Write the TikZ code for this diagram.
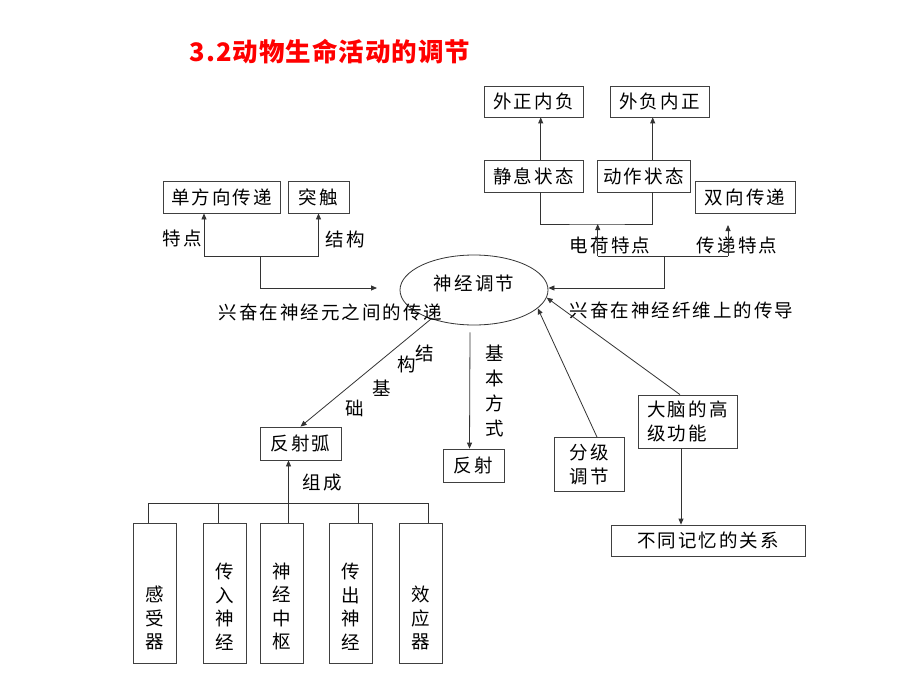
\documentclass[tikz,border=0pt]{standalone}
\usepackage{fontspec}
\newfontfamily\cjk{Noto Sans CJK SC}[LetterSpace=11]
\newfontfamily\titlefont{Noto Sans CJK SC}[LetterSpace=4]
\usetikzlibrary{arrows.meta,shapes.geometric,calc}
\definecolor{tred}{RGB}{255,0,0}
\newcommand\bodyf{\cjk\fontsize{18.5}{24}\selectfont}
\newcommand\vertf{\cjk\fontsize{18.5}{23.5}\selectfont}
\tikzset{
  ln/.style={draw=black!80, line width=0.8pt},
  arr/.style={ln, -{Triangle[length=6pt,width=5pt]}},
  bx/.style={draw=black!75, line width=0.8pt, inner sep=0pt, font=\bodyf},
  txt/.style={inner sep=0pt, font=\bodyf},
}
\begin{document}
\begin{tikzpicture}[x=1pt,y=-1pt]
\useasboundingbox (0,0) rectangle (920,690);
\fill[white] (0,0) rectangle (920,690);

% title
\node[inner sep=0pt, text=tred, font=\titlefont\bfseries\fontsize{25.5}{30}\selectfont] (title) at (330,52) {3.2动物生命活动的调节};

% top right boxes
\node[bx, minimum width=99pt, minimum height=31pt] (wzn) at (533.5,101.5) {外正内负};
\node[bx, minimum width=99pt, minimum height=31pt] (wfn) at (659.5,101.5) {外负内正};
\node[bx, minimum width=99pt, minimum height=32pt] (jx) at (533.5,176) {静息状态};
\node[bx, minimum width=93pt, minimum height=32pt] (dz) at (643.5,176) {动作状态};
\node[bx, minimum width=100pt, minimum height=32pt] (sx) at (745,197) {双向传递};

% top left boxes
\node[bx, minimum width=117pt, minimum height=32pt] (dfx) at (221.5,197) {单方向传递};
\node[bx, minimum width=61pt, minimum height=32pt] (tc) at (318.5,197) {突触};

% central ellipse
\node[ellipse, draw=black!80, line width=0.8pt, minimum width=148pt, minimum height=70pt, inner sep=0pt, font=\bodyf] (nerve) at (474,290) {\raisebox{7pt}[\height][\depth]{神经调节}};

% lower boxes
\node[bx, minimum width=81pt, minimum height=33pt] (fsh) at (300.5,443.5) {反射弧};
\node[bx, minimum width=61pt, minimum height=33pt] (fs) at (473.5,465.5) {反射};
\node[bx, minimum width=70pt, minimum height=54pt, align=left] (fj) at (589,464.5) {分级\\调节};
\node[bx, minimum width=99pt, minimum height=53pt, align=left] (dn) at (687.5,421.5) {大脑的高\\级功能};
\node[bx, minimum width=194pt, minimum height=31pt] (bt) at (708,540.5) {不同记忆的关系};

% tall component boxes
\node[bx, minimum width=43pt, minimum height=140pt] (gsq) at (154.5,593) {};
\node[bx, minimum width=43pt, minimum height=140pt] (crsj) at (225,593) {};
\node[bx, minimum width=43pt, minimum height=140pt] (sjzs) at (281.5,593) {};
\node[bx, minimum width=43pt, minimum height=140pt] (ccsj) at (351,593) {};
\node[bx, minimum width=43pt, minimum height=140pt] (xyq) at (421,593) {};
\node[txt, font=\vertf, align=center, anchor=south] (gsqt) at ([yshift=13pt]gsq.south) {感\\受\\器};
\node[txt, font=\vertf, align=center, anchor=south] (crsjt) at ([yshift=13pt]crsj.south) {传\\入\\神\\经};
\node[txt, font=\vertf, align=center, anchor=south] (sjzst) at ([yshift=13pt]sjzs.south) {神\\经\\中\\枢};
\node[txt, font=\vertf, align=center, anchor=south] (ccsjt) at ([yshift=13pt]ccsj.south) {传\\出\\神\\经};
\node[txt, font=\vertf, align=center, anchor=south] (xyqt) at ([yshift=13pt]xyq.south) {效\\应\\器};

% labels
\node[txt] (ltd) at (182,238) {特点};
\node[txt] (ljg) at (345,239) {结构};
\node[txt] (ldh) at (610,245) {电荷特点};
\node[txt] (lcd) at (737,245) {传递特点};
\node[txt] (lsjy) at (330.5,312) {兴奋在神经元之间的传递};
\node[txt] (lsjx) at (681.5,310) {兴奋在神经纤维上的传导};
\node[txt] (lj1) at (425,353) {结};
\node[txt] (lj2) at (407,364) {构};
\node[txt] (lj3) at (382,388) {基};
\node[txt] (lj4) at (355,408) {础};
\node[txt, font=\cjk\fontsize{18.5}{25}\selectfont, align=center] (ljb) at (495,391) {基\\本\\方\\式};
\node[txt] (lzc) at (322,483) {组成};

% connectors top right
\draw[arr] ([xshift=7.2pt]jx.north) -- ([xshift=7.2pt]jx.north |- wzn.south);
\draw[arr] ([xshift=9.2pt]dz.north) -- ([xshift=9.2pt]dz.north |- wfn.south);
\coordinate (ec) at (597.7,224);
\coordinate (ecb) at (597.7,256);
\coordinate (cst) at (728,225);
\coordinate (csb) at (728,256);
\coordinate (rhub) at (664,256);
\draw[ln] ([xshift=7.2pt]jx.south) |- (ec) -| ([xshift=9.2pt]dz.south);
\draw[ln] (ecb) -- (csb);
\draw[arr] (ecb) -- (ec);
\draw[arr] (csb) -- (cst);
\draw[arr] (rhub) |- ([yshift=2pt]nerve.east);

% connectors top left
\coordinate (lbar) at (260,256);
\coordinate (ltip) at (377,288);
\coordinate (la) at ([xshift=-17.5pt]dfx.south);
\draw[ln] (la |- lbar) -- (tc.south |- lbar);
\draw[arr] (la |- lbar) -- (la);
\draw[arr] (tc.south |- lbar) -- (tc.south);
\draw[arr] (lbar) |- (ltip);

% connectors lower
\draw[arr] (nerve.-146) -- (fsh.north);
\draw[arr] ([xshift=-4pt,yshift=-7pt]nerve.south) -- ([xshift=-4pt]fs.north);
\coordinate (bus) at (289,503);
\coordinate (sa) at ([xshift=7pt]sjzs.north);
\draw[arr] (sa) -- (sa |- fsh.south);
\coordinate (ga) at ([xshift=-6.5pt]gsq.north);
\coordinate (xa) at ([xshift=7pt]xyq.north);
\coordinate (ca) at ([xshift=-7pt]crsj.north);
\coordinate (oa) at ([xshift=7pt]ccsj.north);
\draw[ln] (ga) |- (xa |- bus) -- (xa);
\draw[ln] (ca) -- (ca |- bus);
\draw[ln] (oa) -- (oa |- bus);

% connectors right
\draw[arr] ([xshift=8pt]fj.north) -- (nerve.-16);
\draw[arr] ([xshift=-7.5pt]dn.north) -- (nerve.-6);
\coordinate (da) at ([xshift=-6.5pt]dn.south);
\draw[arr] (da) -- (da |- bt.north);
\end{tikzpicture}
\end{document}
